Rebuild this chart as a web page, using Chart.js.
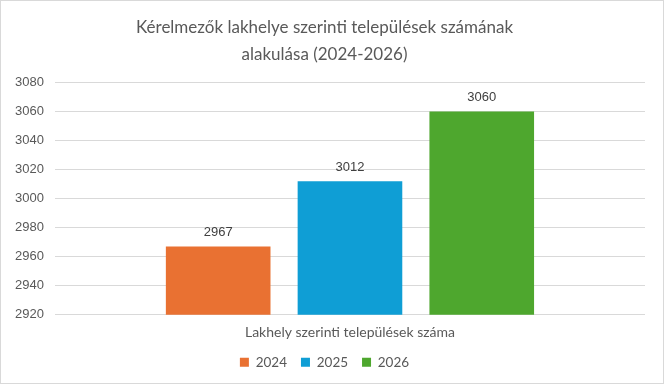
<!DOCTYPE html>
<html>
<head>
<meta charset="utf-8">
<script src="https://cdn.jsdelivr.net/npm/chart.js@4"></script>
<style>
  body { margin: 0; background: #fff; }
  #wrap { width: 662px; height: 382px; border: 1px solid #d9d9d9; }
</style>
</head>
<body>
<div id="wrap"><canvas id="myChart" width="662" height="382"></canvas></div>
<script>
const labels = ["Lakhely szerinti települések száma"];
const years = ["2024", "2025", "2026"];
const values = [2967, 3012, 3060];
const colors = ["#E97132", "#0F9ED5", "#4EA72E"];

// draw the value above each bar
const valueLabels = {
  id: 'valueLabels',
  afterDatasetsDraw(chart) {
    const ctx = chart.ctx;
    ctx.save();
    ctx.font = '13px "Liberation Sans", Arial, sans-serif';
    ctx.fillStyle = '#404040';
    ctx.textAlign = 'center';
    ctx.textBaseline = 'middle';
    chart.data.datasets.forEach(function(ds, i) {
      chart.getDatasetMeta(i).data.forEach(function(bar, j) {
        ctx.fillText(ds.data[j], bar.x, bar.y - 14);
      });
    });
    ctx.restore();
  }
};

const data = {
  labels: labels,
  datasets: years.map(function(y, i) {
    return {
      label: y,
      data: [values[i]],
      backgroundColor: colors[i],
      categoryPercentage: 0.67,
      barPercentage: 0.794
    };
  })
};

const config = {
  type: 'bar',
  data: data,
  plugins: [valueLabels],
  options: {
    responsive: false,
    animation: false,
    layout: { padding: { left: 3, right: 18, top: 4, bottom: 4 } },
    plugins: {
      title: {
        display: true,
        text: ["Kérelmezők lakhelye szerinti települések számának", "alakulása (2024-2026)"],
        color: '#595959',
        font: { family: 'Lato, "Noto Sans", sans-serif', size: 17, weight: 'normal', lineHeight: 1.6 },
        padding: { top: 9, bottom: 14 }
      },
      legend: {
        position: 'bottom',
        labels: {
          boxWidth: 9,
          boxHeight: 9,
          padding: 14,
          color: '#595959',
          font: { family: 'Lato, "Noto Sans", sans-serif', size: 13.5 }
        }
      },
      tooltip: { enabled: false }
    },
    scales: {
      x: {
        grid: { display: false },
        border: { display: false },
        ticks: {
          color: '#595959',
          padding: 1,
          font: { family: 'Lato, "Noto Sans", sans-serif', size: 14 }
        }
      },
      y: {
        min: 2920,
        max: 3080,
        grid: { color: '#d9d9d9', drawTicks: false },
        border: { display: false },
        ticks: {
          stepSize: 20,
          padding: 11,
          color: '#595959',
          font: { family: '"Liberation Sans", Arial, sans-serif', size: 13 },
          callback: function(v) { return String(v); }
        }
      }
    }
  }
};

var myChart = new Chart(document.getElementById('myChart'), config);
</script>
</body>
</html>
